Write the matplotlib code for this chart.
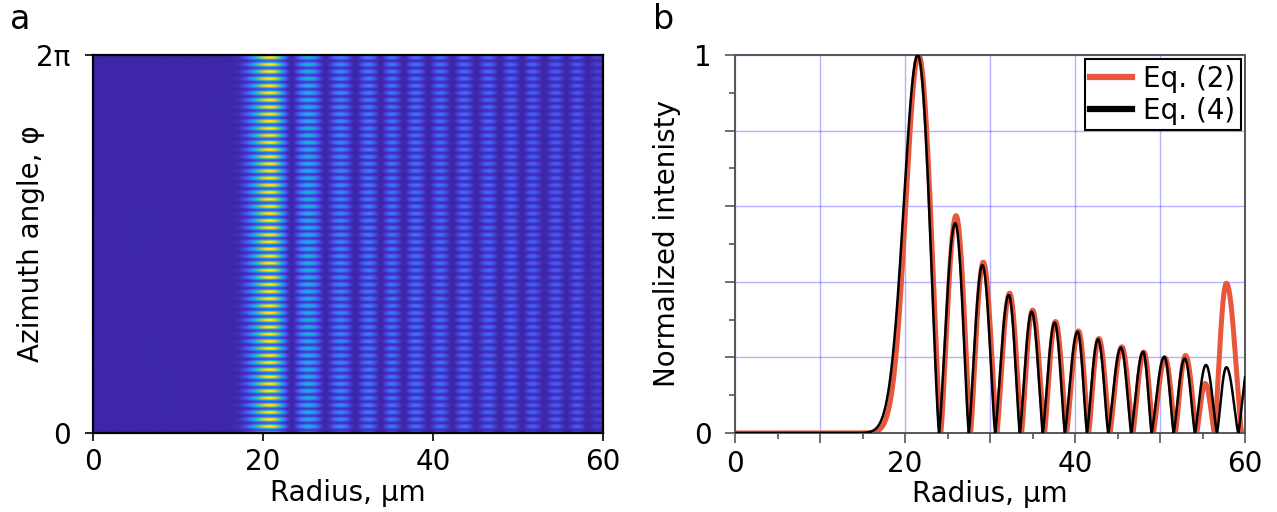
import matplotlib.pyplot as plt
import numpy as np
from matplotlib.colors import LinearSegmentedColormap
from matplotlib.lines import Line2D
from matplotlib.ticker import MultipleLocator, FuncFormatter

# %%
# Values

# panel b, Eq. (4) (black): peak radius, peak height, minimum to the right of each peak
eq4_peak = [21.5, 25.9, 29.1, 32.2, 34.9, 37.6, 40.3, 42.7, 45.4, 48.0, 50.5, 52.9, 55.4, 57.8, 60.5]
eq4_height = [1.0, 0.555, 0.444, 0.365, 0.321, 0.292, 0.268, 0.248, 0.226, 0.215, 0.202, 0.197, 0.180, 0.174, 0.19]
eq4_min = [24.0, 27.5, 30.6, 33.5, 36.2, 38.8, 41.4, 43.9, 46.6, 49.0, 51.6, 54.1, 56.7, 59.2, 62.0]
eq4_foot = 1.65

# panel b, Eq. (2) (red)
eq2_peak = [21.6, 26.0, 29.2, 32.3, 35.0, 37.7, 40.4, 42.8, 45.5, 48.1, 50.6, 53.0, 55.3, 57.8]
eq2_height = [1.0, 0.575, 0.452, 0.370, 0.325, 0.295, 0.270, 0.250, 0.228, 0.214, 0.198, 0.205, 0.131, 0.396]
eq2_min = [24.2, 27.7, 30.8, 33.7, 36.4, 39.0, 41.6, 44.1, 46.8, 49.2, 51.8, 54.3, 56.4, 59.6]
eq2_foot = 1.5

# panel a, ring columns of the intensity map
map_peak = [20.8, 25.3, 29.1, 32.4, 35.1, 37.9, 40.8, 43.6, 46.5, 49.1, 51.6, 54.4, 56.9, 59.3]
map_level = [1.0, 0.47, 0.32, 0.28, 0.26, 0.25, 0.24, 0.23, 0.22, 0.21, 0.20, 0.19, 0.18, 0.10]
map_min = [23.3, 27.3, 30.8, 33.8, 36.5, 39.4, 42.2, 45.0, 47.8, 50.4, 53.0, 55.6, 58.1, 60.5]
map_foot = 1.5
# azimuthal fringes: angle of the lowest fringe and fringe spacing (rad)
fringe_phi0 = 0.105
fringe_step = 0.1178

# parula-like colour anchors
parula = ['#3e26a8', '#4852f4', '#2d87f7', '#12b1d6', '#37c897',
          '#abc739', '#fec338', '#f9fb15']


def profile(r, peaks, heights, mins, foot, q=1.3):
    # piecewise lobes: gaussian rise for the first one, sine-shaped lobes after
    y = np.zeros_like(r)
    for i, (p, h) in enumerate(zip(peaks, heights)):
        hi = mins[i]
        right = (r >= p) & (r <= hi)
        y[right] = h * np.sin(np.pi / 2 * (hi - r[right]) / (hi - p)) ** q
        if i == 0:
            left = r < p
            y[left] = h * np.exp(-(r[left] - p) ** 2 / (2 * foot ** 2))
        else:
            lo = mins[i - 1]
            left = (r >= lo) & (r < p)
            y[left] = h * np.sin(np.pi / 2 * (r[left] - lo) / (p - lo)) ** q
    return y


plt.rcParams['font.family'] = 'DejaVu Sans'
plt.rcParams['font.size'] = 20

fig = plt.figure(figsize=(12.77, 5.12), dpi=100)
ax1 = fig.add_axes([0.0728, 0.1543, 0.3994, 0.7383])
ax2 = fig.add_axes([0.5756, 0.1543, 0.3994, 0.7383])

# %%
# a: intensity map
cmap = LinearSegmentedColormap.from_list('parula', parula)
r = np.linspace(0, 60, 1200)
phi = np.linspace(0, 2 * np.pi, 900)
radial = profile(r, map_peak, map_level, map_min, map_foot, q=1.7)
fringe = 0.12 + 0.88 * np.cos(np.pi * (phi - fringe_phi0) / fringe_step) ** 2
img = fringe[:, None] * radial[None, :]
ax1.imshow(img, cmap=cmap, vmin=0, vmax=1, origin='lower', aspect='auto',
           extent=[0, 60, 0, 2 * np.pi], interpolation='bilinear')
ax1.set_xlim(0, 60)
ax1.set_ylim(0, 2 * np.pi)
ax1.set_xticks([0, 20, 40, 60])
ax1.set_yticks([0, 2 * np.pi])
ax1.set_yticklabels(['0', '2π'])
ax1.tick_params(direction='out', length=6, width=1.2, color='black', pad=5)
ax1.tick_params(axis='y', pad=10)
for s in ax1.spines.values():
    s.set_linewidth(1.6)
    s.set_color('black')
ax1.set_xlabel('Radius, µm', labelpad=2)
ax1.set_ylabel('Azimuth angle, φ')
ax1.yaxis.set_label_coords(-0.094, 0.5)

# %%
# b: radial profiles
rr = np.linspace(0, 60, 3000)
ax2.plot(rr, profile(rr, eq2_peak, eq2_height, eq2_min, eq2_foot),
         color='#e8563c', lw=3.6, solid_capstyle='round', zorder=2)
ax2.plot(rr, profile(rr, eq4_peak, eq4_height, eq4_min, eq4_foot),
         color='black', lw=1.8, zorder=3)
ax2.set_xlim(0, 60)
ax2.set_ylim(0, 1)
ax2.xaxis.set_major_locator(MultipleLocator(10))
ax2.xaxis.set_minor_locator(MultipleLocator(5))
ax2.yaxis.set_major_locator(MultipleLocator(0.2))
ax2.yaxis.set_minor_locator(MultipleLocator(0.1))
ax2.xaxis.set_major_formatter(FuncFormatter(lambda v, _: f'{v:.0f}' if round(v) % 20 == 0 else ''))
ax2.yaxis.set_major_formatter(FuncFormatter(lambda v, _: f'{v:.0f}' if abs(v - round(v)) < 1e-6 else ''))
ax2.grid(True, which='major', color='blue', alpha=0.3, lw=1)
ax2.tick_params(which='major', direction='out', length=7, width=1.2, color='#555555', pad=5)
ax2.tick_params(which='minor', direction='out', length=4, width=1.2, color='#555555')
ax2.tick_params(axis='y', which='major', pad=10)
for s in ax2.spines.values():
    s.set_linewidth(1.4)
    s.set_color('#555555')
ax2.set_xlabel('Radius, µm', labelpad=2)
ax2.set_ylabel('Normalized intenisty')
ax2.yaxis.set_label_coords(-0.106, 0.5)

handles = [Line2D([], [], color='#e8563c', lw=4.5), Line2D([], [], color='black', lw=4.5)]
leg = ax2.legend(handles, ['Eq. (2)', 'Eq. (4)'], loc='upper right', fancybox=False,
                 framealpha=1, edgecolor='black', handlelength=1.5, handletextpad=0.4,
                 borderpad=0.2, labelspacing=0.15, borderaxespad=0.15)
leg.get_frame().set_linewidth(1.5)

fig.text(0.008, 0.995, 'a', fontsize=24, va='top', ha='left')
fig.text(0.511, 0.995, 'b', fontsize=24, va='top', ha='left')

fig.savefig('out.png', dpi=100)
